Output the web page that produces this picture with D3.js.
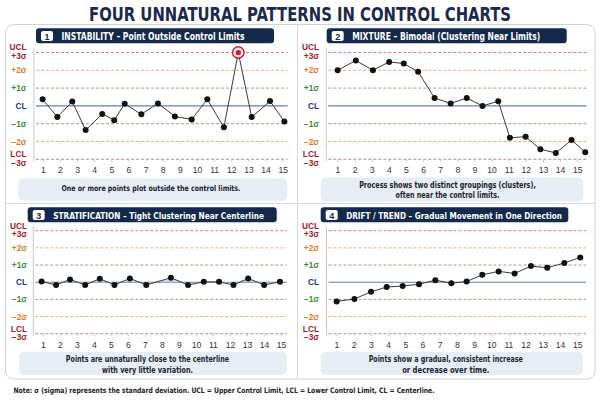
<!DOCTYPE html>
<html><head><meta charset="utf-8">
<script src="https://cdn.jsdelivr.net/npm/d3@7"></script>
<style>html,body{margin:0;padding:0;background:#fff;} svg{display:block}</style>
</head><body>
<svg id="c" width="600" height="400"></svg>
<script>
// ---------- DATA ----------
const chartTitle = "FOUR UNNATURAL PATTERNS IN CONTROL CHARTS";
const panelNumbers = ["1", "2", "3", "4"];
const panelTitles = [
  "INSTABILITY – Point Outside Control Limits",
  "MIXTURE – Bimodal (Clustering Near Limits)",
  "STRATIFICATION – Tight Clustering Near Centerline",
  "DRIFT / TREND – Gradual Movement in One Direction"
];
const panelCaptions = [
  ["One or more points plot outside the control limits."],
  ["Process shows two distinct groupings (clusters),", "often near the control limits."],
  ["Points are unnaturally close to the centerline", "with very little variation."],
  ["Points show a gradual, consistent increase", "or decrease over time."]
];
const xTickLabels = [1, 2, 3, 4, 5, 6, 7, 8, 9, 10, 11, 12, 13, 14, 15];
const sigmaLevels = [3, 2, 1, 0, -1, -2, -3];
const sigmaLabels = [["UCL", "+3σ"], ["+2σ"], ["+1σ"], ["CL"], ["−1σ"], ["−2σ"], ["LCL", "−3σ"]];

// sample positions (in x-axis units) and values (in sigma units)
const instabilityX = [0.96, 1.82, 2.69, 3.47, 4.44, 5.14, 5.75, 6.72, 7.69, 8.68, 9.66, 10.57, 11.54, 12.38, 13.16, 14.23, 15.07];
const instabilityY = [0.37, -0.63, 0.25, -1.36, -0.45, -0.8, 0.12, -0.47, 0.14, -0.59, -0.76, 0.37, -1.2, 3.0, -0.63, 0.27, -0.88];
const instabilityOutlier = 13;

const mixtureX = [0.98, 2.04, 3.04, 3.99, 4.84, 5.68, 6.64, 7.58, 8.52, 9.44, 10.36, 11.04, 11.96, 12.82, 13.72, 14.64, 15.44];
const mixtureY = [2.0, 2.55, 2.0, 2.47, 2.38, 1.92, 0.44, 0.14, 0.44, 0.0, 0.26, -1.79, -1.73, -2.44, -2.64, -1.92, -2.6];

const stratificationX = [0.90, 1.75, 2.57, 3.46, 4.32, 5.18, 6.09, 7.05, 8.50, 9.51, 10.43, 11.33, 12.18, 13.04, 13.98, 14.91];
const stratificationY = [0.04, -0.16, 0.16, -0.16, 0.2, -0.16, 0.22, -0.16, 0.26, -0.16, 0.02, 0.02, -0.16, 0.22, -0.16, 0.02];

const driftX = [0.98, 2.01, 2.98, 3.89, 4.82, 5.77, 6.72, 7.65, 8.54, 9.45, 10.40, 11.33, 12.28, 13.23, 14.22, 15.15];
const driftY = [-1.12, -0.98, -0.56, -0.28, -0.22, -0.12, 0.12, -0.06, 0.04, 0.43, 0.63, 0.51, 0.94, 0.84, 1.12, 1.44];

const noteText = "Note: σ (sigma) represents the standard deviation. UCL = Upper Control Limit, LCL = Lower Control Limit, CL = Centerline.";

// ---------- LAYOUT ----------
const NARROW = "'Liberation Sans Narrow','DejaVu Sans Condensed','Arial Narrow',sans-serif";
const SANS = "'Liberation Sans','DejaVu Sans',Arial,sans-serif";
const NAVY = "#14294b";

// fit a text to a target width: allow a mild squeeze, shrink the font beyond that
function fit(sel, target, size, squeeze) {
  squeeze = squeeze || 0.9;
  sel.attr("font-size", size);
  const n = sel.node().getComputedTextLength();
  if (n * squeeze > target) {
    sel.attr("font-size", size * target / (n * squeeze));
  }
  sel.attr("textLength", target).attr("lengthAdjust", "spacingAndGlyphs");
  return sel;
}

const series = [
  {x: instabilityX, y: instabilityY},
  {x: mixtureX, y: mixtureY},
  {x: stratificationX, y: stratificationY},
  {x: driftX, y: driftY}
];

const layouts = [
  {hx: 36, hw: 238, hy: 28.3, tw: 183, xr: [43.3, 283.2], yr: [159.3, 52.5], ax: 34, xe: 287.5, lx: 26.5,
   box: [18.3, 178.3, 269, 22.5], cx: 151, capB: [191], capW: [179]},
  {hx: 326.7, hw: 240, hy: 28.3, tw: 188, xr: [338, 577.7], yr: [159.3, 52.5], ax: 326.3, xe: 586.5, lx: 319,
   box: [320.7, 177.5, 262.6, 24], cx: 447.5, capB: [187.6, 198.2], capW: [176.7, 104]},
  {hx: 27.7, hw: 249, hy: 207.3, tw: 210.7, xr: [43.3, 281.5], yr: [333.7, 230.7], ax: 33.3, xe: 286.7, lx: 27,
   box: [19.3, 351.7, 267.4, 23.5], cx: 147.5, capB: [361.5, 372.6], capW: [163.3, 91]},
  {hx: 320.7, hw: 247.6, hy: 207.3, tw: 215.7, xr: [337, 577.7], yr: [333.7, 230.7], ax: 326.5, xe: 586, lx: 319,
   box: [320.7, 351.7, 262, 23.5], cx: 445.8, capB: [361.5, 372.6], capW: [154.3, 87.3]}
];

const levelStyle = {
  3: {line: "#e06a72", text: "#a3192b"},
  2: {line: "#f0a55c", text: "#e07a1f"},
  1: {line: "#79a862", text: "#3f8a36"},
  0: {line: "#5b84b1", text: "#1d3b6e"}
};

const svg = d3.select("#c");

// title
fit(svg.append("text")
  .attr("x", 300).attr("y", 21)
  .attr("text-anchor", "middle")
  .attr("font-family", NARROW).attr("font-weight", "bold")
  .attr("fill", "#1b2a4c")
  .text(chartTitle), 422, 20.5, 0.88);

// outer container and dividers
svg.append("rect").attr("x", 5.5).attr("y", 24.5).attr("width", 589.5).attr("height", 354.5)
  .attr("rx", 8).attr("fill", "#fff").attr("stroke", "#cfd2d6").attr("stroke-width", 1);
svg.append("line").attr("x1", 297.5).attr("x2", 297.5).attr("y1", 24.5).attr("y2", 379)
  .attr("stroke", "#d6d8dc");
svg.append("line").attr("x1", 5.5).attr("x2", 595).attr("y1", 203.5).attr("y2", 203.5)
  .attr("stroke", "#d6d8dc");

layouts.forEach((L, i) => {
  const g = svg.append("g");
  const x = d3.scaleLinear().domain([1, 15]).range(L.xr);
  const y = d3.scaleLinear().domain([-3, 3]).range(L.yr);
  const d = series[i];
  const pts = d.x.map((v, k) => [v, d.y[k]]);

  // header
  g.append("rect").attr("x", L.hx).attr("y", L.hy).attr("width", L.hw).attr("height", 15)
    .attr("rx", 3).attr("fill", NAVY);
  g.append("rect").attr("x", L.hx + 5).attr("y", L.hy + 2.6).attr("width", 12).attr("height", 10)
    .attr("rx", 2).attr("fill", "#fff");
  g.append("text").attr("x", L.hx + 11).attr("y", L.hy + 11.2).attr("text-anchor", "middle")
    .attr("font-family", SANS).attr("font-weight", "bold").attr("font-size", 9).attr("fill", NAVY)
    .text(panelNumbers[i]);
  fit(g.append("text").attr("x", L.hx + 25.5).attr("y", L.hy + 11.3)
    .attr("font-family", NARROW).attr("font-weight", "bold").attr("fill", "#fff")
    .text(panelTitles[i]), L.tw, 10.6, 0.88);

  // vertical axis line
  g.append("line").attr("x1", L.ax).attr("x2", L.ax).attr("y1", y(3) - 4).attr("y2", y(-3) + 2)
    .attr("stroke", "#cfc6c8").attr("stroke-width", 1);

  // reference lines
  sigmaLevels.forEach(lv => {
    const st = levelStyle[Math.abs(lv)];
    g.append("line").attr("x1", L.ax + 2).attr("x2", L.xe).attr("y1", y(lv)).attr("y2", y(lv))
      .attr("stroke", st.line).attr("stroke-width", lv === 0 ? 1.1 : 0.9)
      .attr("stroke-dasharray", lv === 0 ? null : "3,2");
  });

  // y labels
  sigmaLevels.forEach((lv, k) => {
    const st = levelStyle[Math.abs(lv)];
    const labs = sigmaLabels[k];
    const offs = labs.length === 2 ? [-2.2, 6.6] : [3];
    labs.forEach((t, j) => {
      g.append("text").attr("x", L.lx).attr("y", y(lv) + offs[j])
        .attr("text-anchor", "end")
        .attr("font-family", SANS).attr("font-weight", "bold").attr("font-size", 8.3)
        .attr("fill", st.text).text(t);
    });
  });

  // x axis ticks and labels
  g.selectAll(".tk").data(xTickLabels).enter().append("line")
    .attr("x1", v => x(v)).attr("x2", v => x(v)).attr("y1", y(-3)).attr("y2", y(-3) + 2.5)
    .attr("stroke", "#b9b9b9").attr("stroke-width", 0.8);
  g.selectAll(".tl").data(xTickLabels).enter().append("text")
    .attr("x", v => x(v)).attr("y", y(-3) + 13.8)
    .attr("text-anchor", "middle").attr("font-family", SANS).attr("font-size", 8.6).attr("fill", "#333")
    .text(v => v);

  // stratification shading
  if (i === 2) {
    g.append("path").datum(pts)
      .attr("d", d3.area().x(p => x(p[0])).y0(y(0)).y1(p => y(p[1])))
      .attr("fill", "#b9c3d3").attr("opacity", 0.55);
  }

  // data line
  g.append("path").datum(pts)
    .attr("d", d3.line().x(p => x(p[0])).y(p => y(p[1])))
    .attr("fill", "none").attr("stroke", "#3a3a3a").attr("stroke-width", 1);

  // points
  g.selectAll(".pt").data(pts).enter().append("circle")
    .attr("cx", p => x(p[0])).attr("cy", p => y(p[1]))
    .attr("r", (p, k) => (i === 0 && k === instabilityOutlier) ? 0 : 3)
    .attr("fill", "#111");

  if (i === 0) {
    const p = pts[instabilityOutlier];
    g.append("circle").attr("cx", x(p[0])).attr("cy", y(p[1])).attr("r", 5.8)
      .attr("fill", "#fbe6e8").attr("stroke", "#c81e2e").attr("stroke-width", 1.4);
    g.append("circle").attr("cx", x(p[0])).attr("cy", y(p[1])).attr("r", 2.6)
      .attr("fill", "#c81e2e");
  }

  // caption box
  g.append("rect").attr("x", L.box[0]).attr("y", L.box[1]).attr("width", L.box[2]).attr("height", L.box[3])
    .attr("rx", 5).attr("fill", "#e7edf5");
  panelCaptions[i].forEach((t, j) => {
    fit(g.append("text").attr("x", L.cx).attr("y", L.capB[j]).attr("text-anchor", "middle")
      .attr("font-family", NARROW).attr("font-weight", "bold").attr("fill", "#1e2330")
      .text(t), L.capW[j], 9.8, 0.88);
  });
});

// note
fit(svg.append("text").attr("x", 13.5).attr("y", 393)
  .attr("font-family", NARROW).attr("font-weight", "bold").attr("fill", "#222")
  .text(noteText), 421, 7.8, 0.9);
</script>
</body></html>
